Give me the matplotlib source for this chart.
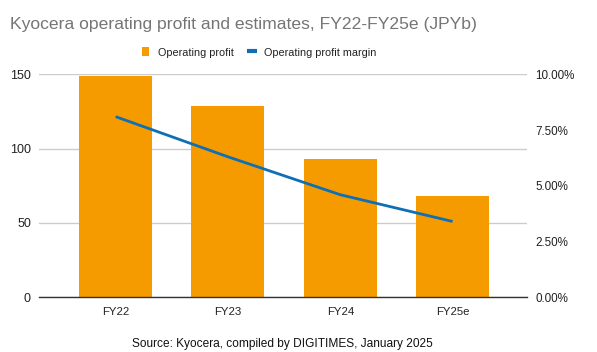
import matplotlib
matplotlib.use("Agg")
import matplotlib.pyplot as plt
from matplotlib.patches import Rectangle
from matplotlib.lines import Line2D
from matplotlib.ticker import FuncFormatter

plt.rcParams['font.family'] = ['Liberation Sans', 'DejaVu Sans']

categories = ["FY22", "FY23", "FY24", "FY25e"]
operating_profit = [149, 128.5, 93, 68]
profit_margin = [8.1, 6.3, 4.6, 3.4]  # percent
left_ticks = [0, 50, 100, 150]
right_ticks = [0, 2.5, 5, 7.5, 10]

ORANGE = "#F59B00"
BLUE = "#0F6FB5"

W, H = 597, 352
fig = plt.figure(figsize=(W / 100, H / 100), dpi=100)
ax = fig.add_axes([39.3 / W, 1 - 297.3 / H, (526.7 - 39.3) / W, (297.3 - 74.3) / H])

x = list(range(len(categories)))
ax.bar(x, operating_profit, width=0.65, color=ORANGE, zorder=2)
ax.set_xlim(-0.68, 3.66)
ax.set_ylim(0, 150)
ax.set_yticks(left_ticks)
ax.grid(axis='y', color='#cccccc', linewidth=1, zorder=0)
ax.set_xticks(x)
ax.set_xticklabels(categories)
for s in ['top', 'right', 'left']:
    ax.spines[s].set_visible(False)
ax.spines['bottom'].set_color('#333333')
ax.spines['bottom'].set_linewidth(1)
ax.tick_params(axis='both', length=0, colors='#222222')
ax.tick_params(axis='x', pad=7, labelsize=8.2)
ax.tick_params(axis='y', pad=6, labelsize=9)

ax2 = ax.twinx()
ax2.plot(x, profit_margin, color=BLUE, linewidth=2, zorder=3, solid_capstyle='butt')
ax2.set_ylim(0, 10)
ax2.set_yticks(right_ticks)
ax2.yaxis.set_major_formatter(FuncFormatter(lambda v, p: f"{v:.2f}%"))
for s in ['top', 'right', 'left', 'bottom']:
    ax2.spines[s].set_visible(False)
ax2.tick_params(axis='y', length=0, labelsize=8.4, colors='#222222', pad=6)

fig.text(10 / W, 1 - 29.3 / H, "Kyocera operating profit and estimates, FY22-FY25e (JPYb)",
         fontsize=12.6, color='#757575', va='baseline', ha='left')

# legend
fig.add_artist(Rectangle((141.7 / W, 1 - 55.7 / H), 7.5 / W, 9 / H,
                         transform=fig.transFigure, color=ORANGE, lw=0))
fig.text(158.3 / W, 1 - 55.5 / H, "Operating profit", fontsize=7.8, color='#222222',
         va='baseline', ha='left')
fig.add_artist(Line2D([246.7 / W, 256.7 / W], [1 - 51 / H, 1 - 51 / H],
                      transform=fig.transFigure, color=BLUE, linewidth=3, solid_capstyle='butt'))
fig.text(264.3 / W, 1 - 55.5 / H, "Operating profit margin", fontsize=7.8, color='#222222',
         va='baseline', ha='left')

fig.text(282.5 / W, 1 - 346.5 / H, "Source: Kyocera, compiled by DIGITIMES, January 2025",
         fontsize=8.6, color='#111111', va='baseline', ha='center')

fig.savefig("out.png", dpi=100)
